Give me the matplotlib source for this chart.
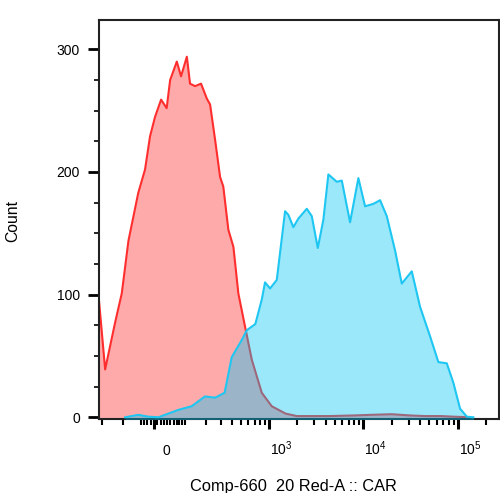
import numpy as np
import matplotlib
matplotlib.use('Agg')
import matplotlib.pyplot as plt
import matplotlib.transforms as mtransforms
from matplotlib.ticker import FixedLocator, NullFormatter

plt.rcParams['font.family'] = ['Liberation Sans', 'DejaVu Sans']
plt.rcParams['mathtext.fontset'] = 'custom'
plt.rcParams['mathtext.rm'] = 'Liberation Sans'
plt.rcParams['mathtext.default'] = 'regular'

# ---- data (fluorescence intensity, count) ----
red_x = [-240, -217, -182, -134, -106, -81, -48, -27, -12, 3, 21, 38, 49, 71, 86,
         108, 121, 143, 172, 203, 223, 256, 292, 318, 362, 412, 467, 552, 653,
         836, 1068, 1500, 1970, 2500, 4400, 8000, 12000, 20000, 31000, 45000,
         65000, 90000, 134000]
red_y = [100, 95, 39, 77, 101, 144, 183, 202, 229, 245, 259, 252, 275, 290, 278,
         294, 272, 270, 272, 260, 255, 226, 196, 188, 153, 139, 101, 74, 47,
         20, 9, 3, 1, 1, 1, 1.5, 2, 2.5, 1.5, 1, 1, 0.5, 0]

blue_x = [-93, -48, -17, 13, 76, 128, 193, 256, 329, 395, 509, 577, 713, 836, 906,
          1025, 1208, 1480, 1604, 1812, 2048, 2514, 2840, 3288, 3767, 4256, 5225,
          5901, 7223, 8843, 10408, 12745, 15006, 17661, 21620, 25456, 32480,
          39770, 50730, 62090, 76220, 89580, 105400, 124060, 145700]
blue_y = [0, 2, 0.5, 0, 6, 9, 17, 16, 20, 49, 63, 71, 76, 96, 110,
          105, 112, 168, 165, 155, 162, 170, 164, 138, 161, 198, 192,
          193, 159, 195, 172, 174, 177, 164, 136, 109, 119,
          90, 66, 45, 44, 28, 7, 0.5, 0]

x_major = [0, 1e3, 1e4, 1e5]
x_major_labels = ['0', '$10^3$', '$10^4$', '$10^5$']
x_minor = ([-200, -100, -40, -30, -20, -10] + list(range(10, 100, 10)) +
           list(range(100, 1000, 100)) + list(range(2000, 10000, 1000)) +
           list(range(20000, 100000, 10000)) + [200000])
y_major = [0, 100, 200, 300]
y_minor = [25, 50, 75, 125, 150, 175, 225, 250, 275]

A = 121.8
def fwd(x):
    return np.arcsinh(np.asarray(x, dtype=float) / A)
def inv(u):
    return A * np.sinh(np.asarray(u, dtype=float))

fig = plt.figure(figsize=(5, 4.93), dpi=100)
ax = fig.add_axes([0.198, 0.1501, 0.800, 0.8093])
ax.set_xscale('function', functions=(fwd, inv))
ax.set_xlim(-217, 272000)
ax.set_ylim(-1.4, 323.9)

# red population
ax.fill_between(red_x, red_y, -5, color='#ffaaaa', lw=0, zorder=1)
ax.plot(red_x, red_y, color='#ff2e2e', lw=1.5, zorder=2)
# blue population (semi-transparent fill over red)
ax.fill_between(blue_x, blue_y, -5, color=(0/255, 196/255, 247/255), alpha=0.39, lw=0, zorder=3)
ax.plot(blue_x, blue_y, color='#1ec6f2', lw=1.5, zorder=4)

for s in ax.spines.values():
    s.set_linewidth(1.5)
    s.set_color('#222222')

ax.xaxis.set_major_locator(FixedLocator(x_major))
ax.xaxis.set_minor_locator(FixedLocator(x_minor))
ax.xaxis.set_major_formatter(NullFormatter())
ax.xaxis.set_minor_formatter(NullFormatter())
ax.tick_params(axis='x', which='major', direction='out', length=7, width=2.2, color='black')
ax.tick_params(axis='x', which='minor', direction='out', length=4.3, width=1.5, color='black')

ax.set_yticks(y_major)
ax.yaxis.set_minor_locator(FixedLocator(y_minor))
ax.set_yticklabels([str(v) for v in y_major])
ax.tick_params(axis='y', which='major', direction='out', length=8, width=2, color='black',
               pad=5.8, labelsize=10)
ax.tick_params(axis='y', which='minor', direction='out', length=3.6, width=1.2, color='black')

# x tick labels (shifted right like the original)
trans = mtransforms.blended_transform_factory(ax.transData, ax.transAxes)
off = mtransforms.ScaledTranslation(12 / 100, -26 / 72, fig.dpi_scale_trans)
for v, lab in zip(x_major, x_major_labels):
    ax.text(v, 0, lab, transform=trans + off, ha='center', va='baseline', fontsize=10)

fig.text(293 / 500, 2 / 493, 'Comp-660  20 Red-A :: CAR', ha='center', va='baseline', fontsize=11.8)
fig.text(13 / 500, 1 - 221 / 493, 'Count', rotation=90, ha='center', va='center', fontsize=11.3)

fig.savefig('out.png', dpi=100)
